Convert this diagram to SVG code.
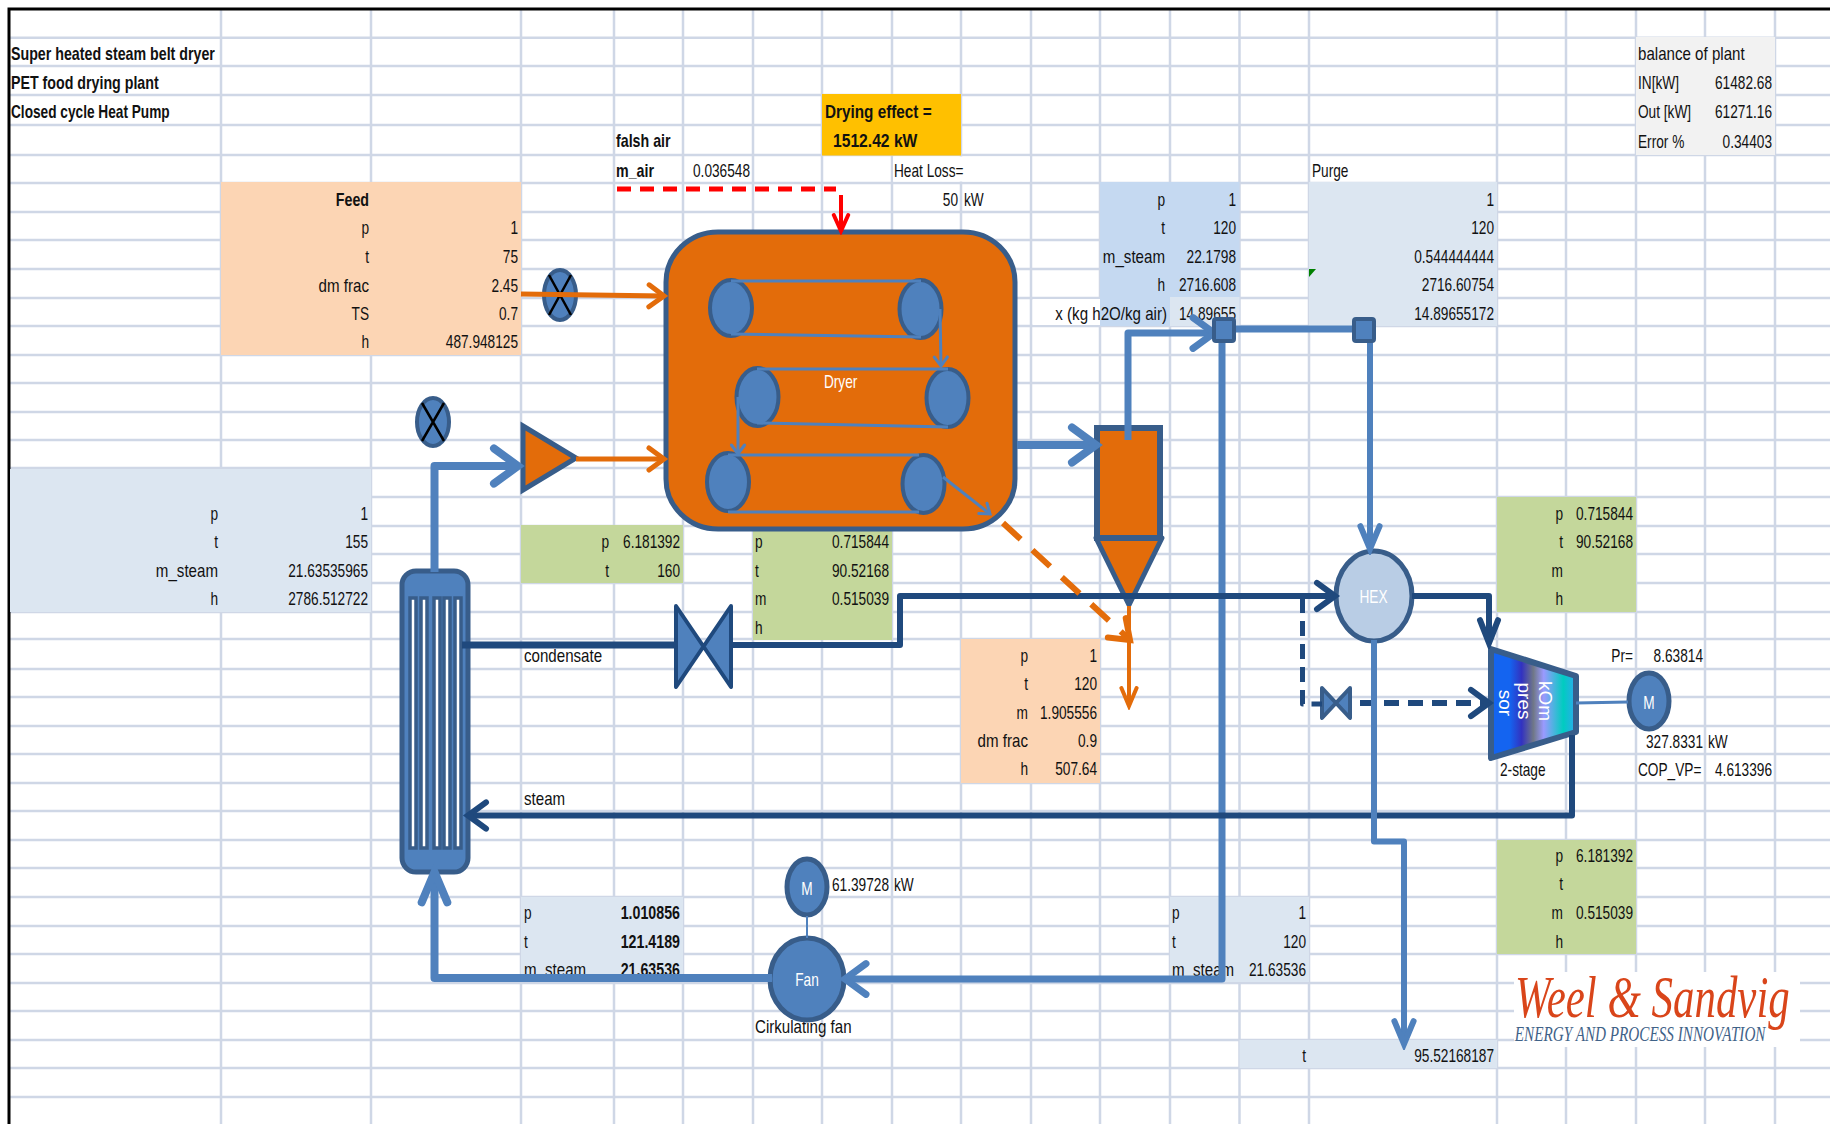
<svg xmlns="http://www.w3.org/2000/svg" width="1830" height="1124" viewBox="0 0 1830 1124">
<style>
text{font-family:"Liberation Sans",Arial,sans-serif;font-size:18px;fill:#111;transform-box:fill-box;transform-origin:0 50%;transform:scaleX(.76)}
.r{text-anchor:end;transform-origin:100% 50%}
.b{font-weight:bold;transform:scaleX(.79)}
.n{transform:scaleX(.84)}
.w{fill:#fff;text-anchor:middle;transform-origin:50% 50%}
text.rot{font-size:19px;fill:#fff;text-anchor:middle;transform:none}
text.logo1{font-family:"Liberation Serif",serif;font-style:italic;font-size:60px;fill:#d9451a;transform:scaleX(.715)}
text.logo2{font-family:"Liberation Serif",serif;font-style:italic;font-size:20px;fill:#3f6288;transform:scaleX(.76)}
.grid{stroke:#cfd7e6;stroke-width:2.5;fill:none}
.eq{fill:#4f81bd;stroke:#385d8a;stroke-width:5}
.belt{fill:#4f81bd;stroke:#385d8a;stroke-width:4}
.ln{fill:none;stroke-linejoin:round}
.blue{stroke:#4f81bd}
.navy{stroke:#1f497d}
.org{stroke:#e36c0a}
.tube{fill:#fff;stroke:#385d8a;stroke-width:3.5}
</style>
<defs>
<marker id="hb" viewBox="-5 -3 6 6" refX="0" refY="0" markerWidth="6" markerHeight="6" orient="auto"><path d="M-3,-2.200 L0,0 L-3,2.200" fill="none" stroke="#4f81bd" stroke-width="1" stroke-linecap="round"/></marker>
<marker id="hn" viewBox="-5 -3 6 6" refX="0" refY="0" markerWidth="6" markerHeight="6" orient="auto"><path d="M-3,-2.200 L0,0 L-3,2.200" fill="none" stroke="#1f497d" stroke-width="1" stroke-linecap="round"/></marker>
<marker id="ho" viewBox="-5 -3 6 6" refX="0" refY="0" markerWidth="6" markerHeight="6" orient="auto"><path d="M-3,-2.200 L0,0 L-3,2.200" fill="none" stroke="#e36c0a" stroke-width="1" stroke-linecap="round"/></marker>
<marker id="hbv" viewBox="-5 -3 6 6" refX="0" refY="0" markerWidth="6" markerHeight="6" orient="auto"><path d="M-3.800,-1.600 L0,0 L-3.800,1.600" fill="none" stroke="#4f81bd" stroke-width="1" stroke-linecap="round"/></marker>
<marker id="hnv" viewBox="-5 -3 6 6" refX="0" refY="0" markerWidth="6" markerHeight="6" orient="auto"><path d="M-3.800,-1.500 L0,0 L-3.800,1.500" fill="none" stroke="#1f497d" stroke-width="1" stroke-linecap="round"/></marker>
<marker id="hov" viewBox="-5 -3 6 6" refX="0" refY="0" markerWidth="6" markerHeight="6" orient="auto"><path d="M-4.500,-1.900 L0,0 L-4.500,1.900" fill="none" stroke="#e36c0a" stroke-width="1" stroke-linecap="round"/></marker>
<marker id="hrv" viewBox="-5 -3 6 6" refX="0" refY="0" markerWidth="6" markerHeight="6" orient="auto"><path d="M-4,-1.800 L0,0 L-4,1.800" fill="none" stroke="#ff0000" stroke-width="1" stroke-linecap="round"/></marker>
<linearGradient id="comp" x1="0" x2="1" y1="0" y2="0">
<stop offset="0" stop-color="#1464f0"/><stop offset=".22" stop-color="#1464f0"/><stop offset=".36" stop-color="#3232c0"/><stop offset=".5" stop-color="#707888"/><stop offset=".62" stop-color="#9a9aff"/><stop offset=".85" stop-color="#00ccc0"/><stop offset="1" stop-color="#30a8f0"/>
</linearGradient>
</defs>
<rect width="1830" height="1124" fill="#fff"/>
<g id="grid">
<path class="grid" d="M221,10V1124M371,10V1124M521,10V1124M614,10V1124M683,10V1124M753,10V1124M822,10V1124M892,10V1124M961,10V1124M1031,10V1124M1100,10V1124M1170,10V1124M1239.500,10V1124M1309,10V1124M1497,10V1124M1566,10V1124M1636,10V1124M1705,10V1124M1775,10V1124"/>
<path class="grid" d="M10,37.700H1830M10,66H1830M10,95H1830M10,125H1830M10,155H1830M10,183H1830M10,212H1830M10,240H1830M10,269H1830M10,298H1830M10,326H1830M10,355H1830M10,383H1830M10,412H1830M10,440H1830M10,468H1830M10,497H1830M10,526H1830M10,554H1830M10,583H1830M10,612H1830M10,639H1830M10,669H1830M10,697H1830M10,726H1830M10,754H1830M10,783H1830M10,811H1830M10,840H1830M10,868H1830M10,897H1830M10,926H1830M10,954H1830M10,983H1830M10,1011H1830M10,1040H1830M10,1068H1830M10,1097H1830"/>
<path d="M9,1124V9H1830" fill="none" stroke="#000" stroke-width="3"/>
</g>
<g id="cell-fills">
<rect x="221" y="182" width="300" height="173" fill="#fcd5b4"/>
<rect x="1100" y="182" width="139.500" height="144" fill="#c5d9f1"/>
<rect x="1170" y="297" width="69.500" height="29" fill="#dce6f1"/>
<rect x="1033" y="299" width="67" height="26" fill="#fff"/>
<rect x="893" y="156.500" width="137" height="25" fill="#fff"/>
<rect x="1309" y="182" width="188" height="144" fill="#dce6f1"/>
<rect x="1636" y="37" width="139" height="118" fill="#f2f2f2"/>
<rect x="10" y="469" width="361" height="143" fill="#dce6f1"/>
<rect x="521" y="525" width="162" height="58" fill="#c4d79b"/>
<rect x="753" y="525" width="139" height="115" fill="#c4d79b"/>
<rect x="961" y="639" width="139" height="144" fill="#fcd5b4"/>
<rect x="1497" y="497" width="139" height="115" fill="#c4d79b"/>
<rect x="1497" y="840" width="139" height="114" fill="#c4d79b"/>
<rect x="521" y="897" width="162" height="85" fill="#dce6f1"/>
<rect x="1170" y="897" width="139" height="85" fill="#dce6f1"/>
<rect x="1239.500" y="1040" width="257.500" height="28" fill="#dce6f1"/>
<rect x="822" y="94" width="139" height="61.500" fill="#ffc000"/>
<polygon points="1309,269 1316,269 1309,277" fill="#008000"/>
</g>
<g id="labels">
<text class="b" x="11" y="60">Super heated steam belt dryer</text>
<text class="b" x="11" y="89">PET food drying plant</text>
<text class="b" x="11" y="118" style="transform:scaleX(.76)">Closed cycle Heat Pump</text>
<text class="b" x="616" y="147">falsh air</text>
<text class="b" x="616" y="177">m_air</text>
<text class="r" x="750" y="177">0.036548</text>
<text class="b" x="825" y="118" style="transform:scaleX(.85)">Drying effect =</text>
<text class="b" x="833" y="147" style="transform:scaleX(.87)">1512.42 kW</text>
<text x="894" y="177">Heat Loss=</text>
<text class="r" x="958" y="206">50</text><text x="964" y="206">kW</text>
<text class="r b" x="369" y="206">Feed</text>
<text class="r" x="369" y="234">p</text><text class="r" x="518" y="234">1</text>
<text class="r" x="369" y="263">t</text><text class="r" x="518" y="263">75</text>
<text class="r n" x="369" y="292">dm frac</text><text class="r" x="518" y="292">2.45</text>
<text class="r" x="369" y="320">TS</text><text class="r" x="518" y="320">0.7</text>
<text class="r" x="369" y="348">h</text><text class="r" x="518" y="348">487.948125</text>
<text class="r" x="1165" y="206">p</text><text class="r" x="1236" y="206">1</text>
<text class="r" x="1165" y="234">t</text><text class="r" x="1236" y="234">120</text>
<text class="r n" x="1165" y="263">m_steam</text><text class="r" x="1236" y="263">22.1798</text>
<text class="r" x="1165" y="291">h</text><text class="r" x="1236" y="291">2716.608</text>
<text class="r n" x="1167" y="320">x (kg h2O/kg air)</text><text class="r" x="1236" y="320">14.89655</text>
<text x="1312" y="177">Purge</text>
<text class="r" x="1494" y="206">1</text>
<text class="r" x="1494" y="234">120</text>
<text class="r" x="1494" y="263">0.544444444</text>
<text class="r" x="1494" y="291">2716.60754</text>
<text class="r" x="1494" y="320">14.89655172</text>
<text class="n" x="1638" y="60">balance of plant</text>
<text x="1638" y="89">IN[kW]</text><text class="r" x="1772" y="89">61482.68</text>
<text x="1638" y="118">Out [kW]</text><text class="r" x="1772" y="118">61271.16</text>
<text x="1638" y="148">Error %</text><text class="r" x="1772" y="148">0.34403</text>
<text class="r" x="218" y="520">p</text><text class="r" x="368" y="520">1</text>
<text class="r" x="218" y="548">t</text><text class="r" x="368" y="548">155</text>
<text class="r n" x="218" y="577">m_steam</text><text class="r" x="368" y="577">21.63535965</text>
<text class="r" x="218" y="605">h</text><text class="r" x="368" y="605">2786.512722</text>
<text class="r" x="609" y="548">p</text><text class="r" x="680" y="548">6.181392</text>
<text class="r" x="609" y="577">t</text><text class="r" x="680" y="577">160</text>
<text x="755" y="548">p</text><text class="r" x="889" y="548">0.715844</text>
<text x="755" y="577">t</text><text class="r" x="889" y="577">90.52168</text>
<text x="755" y="605">m</text><text class="r" x="889" y="605">0.515039</text>
<text x="755" y="634">h</text>
<text class="n" x="524" y="662">condensate</text>
<text class="n" x="524" y="805">steam</text>
<text class="r" x="1028" y="662">p</text><text class="r" x="1097" y="662">1</text>
<text class="r" x="1028" y="690">t</text><text class="r" x="1097" y="690">120</text>
<text class="r" x="1028" y="719">m</text><text class="r" x="1097" y="719">1.905556</text>
<text class="r n" x="1028" y="747">dm frac</text><text class="r" x="1097" y="747">0.9</text>
<text class="r" x="1028" y="775">h</text><text class="r" x="1097" y="775">507.64</text>
<text class="r" x="1563" y="520">p</text><text class="r" x="1633" y="520">0.715844</text>
<text class="r" x="1563" y="548">t</text><text class="r" x="1633" y="548">90.52168</text>
<text class="r" x="1563" y="577">m</text>
<text class="r" x="1563" y="605">h</text>
<text class="r" x="1633" y="662">Pr=</text><text class="r" x="1703" y="662">8.63814</text>
<text class="r" x="1703" y="748">327.8331</text><text x="1708" y="748">kW</text>
<text x="1638" y="776">COP_VP=</text><text class="r" x="1772" y="776">4.613396</text>
<text x="1500" y="776">2-stage</text>
<text class="r" x="1563" y="862">p</text><text class="r" x="1633" y="862">6.181392</text>
<text class="r" x="1563" y="890">t</text>
<text class="r" x="1563" y="919">m</text><text class="r" x="1633" y="919">0.515039</text>
<text class="r" x="1563" y="948">h</text>
<text x="524" y="919">p</text><text class="r b" x="680" y="919">1.010856</text>
<text x="524" y="948">t</text><text class="r b" x="680" y="948">121.4189</text>
<text class="n" x="524" y="976">m_steam</text><text class="r b" x="680" y="976">21.63536</text>
<text x="1172" y="919">p</text><text class="r" x="1306" y="919">1</text>
<text x="1172" y="948">t</text><text class="r" x="1306" y="948">120</text>
<text class="n" x="1172" y="976">m_steam</text><text class="r" x="1306" y="976">21.63536</text>
<text class="r" x="1306" y="1062">t</text><text class="r" x="1494" y="1062">95.52168187</text>
<text x="832" y="891">61.39728</text><text x="894" y="891">kW</text>
<text class="n" x="755" y="1033">Cirkulating fan</text>
</g>
<g id="feed-valve"><ellipse class="belt" cx="560" cy="295" rx="16" ry="25"/><path d="M549,275 L571,315 M571,275 L549,315" stroke="#000" stroke-width="2.500"/></g>
<g id="x-valve"><ellipse class="belt" cx="433" cy="422" rx="16" ry="24"/><path d="M422,403 L444,441 M444,403 L422,441" stroke="#000" stroke-width="2.500"/></g>
<g id="blower"><polygon class="eq" points="523,426 576,458 523,490" style="fill:#e36c0a"/></g>
<g id="dryer">
<rect x="666" y="232" width="349" height="297" rx="52" ry="50" fill="#e36c0a" stroke="#385d8a" stroke-width="5"/>
<ellipse class="belt" cx="731" cy="308" rx="21" ry="28"/><ellipse class="belt" cx="920.500" cy="309" rx="21" ry="29"/>
<ellipse class="belt" cx="757.500" cy="397" rx="21" ry="29"/><ellipse class="belt" cx="947.500" cy="398" rx="21" ry="29"/>
<ellipse class="belt" cx="728" cy="482" rx="21" ry="29"/><ellipse class="belt" cx="923.500" cy="484" rx="21" ry="29"/>
<g class="ln blue" stroke-width="3">
<path d="M731,281 H921 M731,334 L921,337 M757,369 H948 M757,423 L948,427 M728,455 H919 M728,512 H919"/>
<path d="M940,309 L941,366" marker-end="url(#hb)"/>
<path d="M738,397 V454" marker-end="url(#hb)"/>
<path d="M943,477 L990,514" marker-end="url(#hb)"/>
</g>
<text class="w" x="840.500" y="388">Dryer</text>
</g>
<g id="separator">
<polygon points="1096,538 1162,538 1129,605" fill="#e36c0a" stroke="#385d8a" stroke-width="5" stroke-linejoin="round"/>
<rect x="1097" y="428" width="63" height="110" fill="#e36c0a" stroke="#385d8a" stroke-width="6"/>
</g>
<g id="condenser">
<rect class="eq" x="402" y="571" width="66" height="301" rx="14"/>
<rect class="tube" x="410" y="598" width="6" height="250"/>
<rect class="tube" x="421" y="598" width="6" height="250"/>
<rect class="tube" x="434" y="598" width="6" height="250"/>
<rect class="tube" x="444" y="598" width="6" height="250"/>
<rect class="tube" x="455" y="598" width="6" height="250"/>
</g>
<g id="condensate-valve"><polygon points="676,606 731,687 731,606 676,687" fill="#4f81bd" stroke="#1f497d" stroke-width="4" stroke-linejoin="round"/></g>
<g id="bypass-valve"><polygon points="1322,688 1350,718 1350,688 1322,718" fill="#4f81bd" stroke="#385d8a" stroke-width="4" stroke-linejoin="round"/></g>
<g id="hex"><ellipse cx="1374" cy="596" rx="38" ry="45" fill="#b9cde5" stroke="#385d8a" stroke-width="5"/><text class="w" x="1373.500" y="603">HEX</text></g>
<g id="compressor">
<polygon points="1491,649 1576,676 1576,732 1491,758" fill="url(#comp)" stroke="#385d8a" stroke-width="6" stroke-linejoin="round"/>
<g transform="translate(1539,701) rotate(90)"><text class="rot">kOm</text></g>
<g transform="translate(1518,701) rotate(90)"><text class="rot">pres</text></g>
<g transform="translate(1499,703) rotate(90)"><text class="rot">sor</text></g>
</g>
<g id="motor-1"><ellipse class="eq" cx="1649" cy="701" rx="20" ry="28"/><text class="w" x="1649" y="709">M</text></g>
<g id="fan"><ellipse class="eq" cx="807" cy="979" rx="37" ry="41"/><text class="w" x="807" y="986">Fan</text></g>
<g id="motor-2"><ellipse class="eq" cx="807" cy="887" rx="20" ry="28"/><text class="w" x="807" y="895">M</text></g>
<g id="connectors">
<path class="ln org" stroke-width="5" d="M521,294 L664,296" marker-end="url(#ho)"/>
<path class="ln org" stroke-width="5" d="M576,459 H664" marker-end="url(#ho)"/>
<path class="ln" stroke="#ff0000" stroke-width="5" stroke-dasharray="14,9" d="M617,189 H836"/>
<path class="ln" stroke="#ff0000" stroke-width="4" d="M841,195 V231" marker-end="url(#hrv)"/>
<path class="ln blue" stroke-width="8" d="M1017,445 H1096" marker-end="url(#hb)"/>
<path class="ln blue" stroke-width="7" d="M1128,440 V333 H1214" marker-end="url(#hb)"/>
<path class="ln blue" stroke-width="7" d="M1224,329 H1363"/>
<path class="ln blue" stroke-width="6" d="M1370,340 V549" marker-end="url(#hbv)"/>
<path class="ln blue" stroke-width="7" d="M1222,340 V979 H845" marker-end="url(#hb)"/>
<path class="ln blue" stroke-width="8" d="M772,978 H434.500 V872" marker-end="url(#hbv)"/>
<path class="ln blue" stroke-width="8" d="M434.500,572 V466 H518" marker-end="url(#hb)"/>
<path class="ln navy" stroke-width="7" d="M462,645 H678"/>
<path class="ln navy" stroke-width="6" d="M731,645 H900 V596 H1335" marker-end="url(#hn)"/>
<path class="ln navy" stroke-width="6" d="M1412,596 H1489 V643" marker-end="url(#hnv)"/>
<path class="ln navy" stroke-width="6" d="M1572,735 V815.500 H468" marker-end="url(#hn)"/>
<path class="ln navy" stroke-width="5" stroke-dasharray="15,8" d="M1302.500,598 V704 H1322"/>
<path class="ln navy" stroke-width="6" stroke-dasharray="15,9" d="M1360,703 H1489" marker-end="url(#hn)"/>
<path class="ln blue" stroke-width="6" d="M1374,640 V841.500 H1404 V1044" marker-end="url(#hbv)"/>
<path class="ln org" stroke-width="6" stroke-dasharray="24,16" d="M1003,523 L1130,640" marker-end="url(#ho)"/>
<path class="ln org" stroke-width="4" d="M1129,606 V706" marker-end="url(#hov)"/>
<path class="ln blue" stroke-width="3" d="M1576,703 L1628,702"/>
<path class="ln blue" stroke-width="2" d="M807,916 V938"/>
</g>
<g id="junction-1"><rect class="belt" x="1214" y="319" width="20" height="22" rx="2"/></g>
<g id="junction-2"><rect class="belt" x="1354" y="319" width="20" height="22" rx="2"/></g>
<g id="logo">
<rect x="1514" y="972" width="286" height="75" fill="#fff"/>
<text class="logo1" x="1515" y="1017">Weel &amp; Sandvig</text>
<text class="logo2" x="1515" y="1041">ENERGY AND PROCESS INNOVATION</text>
</g>
</svg>
